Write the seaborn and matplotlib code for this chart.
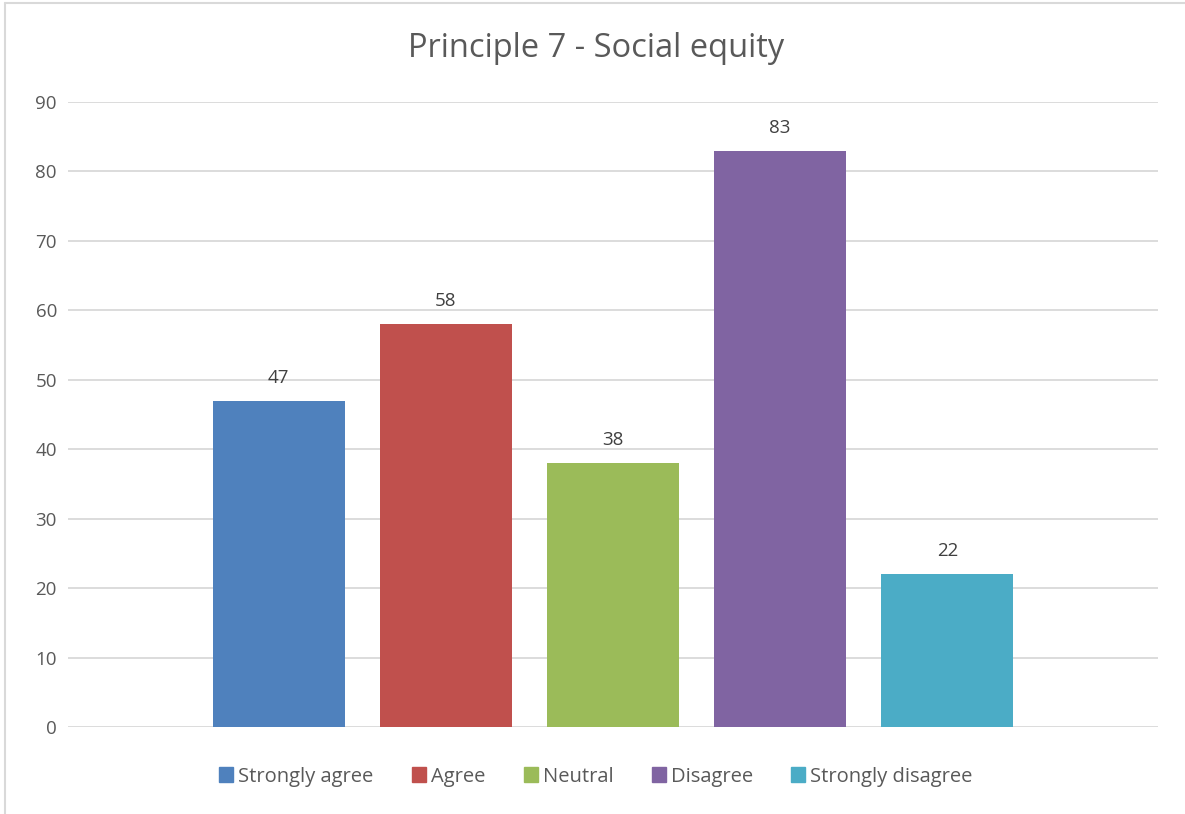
import matplotlib
matplotlib.use("Agg")
import matplotlib.pyplot as plt
from matplotlib.lines import Line2D
import seaborn as sns
import pandas as pd

# datos
categorias = ["Strongly agree", "Agree", "Neutral", "Disagree", "Strongly disagree"]
valores    = [47, 58, 38, 83, 22]
colores    = ["#4F81BD", "#C0504D", "#9BBB59", "#8064A2", "#4BACC6"]
titulo     = "Principle 7 - Social equity"
yticks     = [0, 10, 20, 30, 40, 50, 60, 70, 80, 90]

sns.set_theme(style="white")
plt.rcParams['font.family'] = ['Open Sans', 'DejaVu Sans']

df = pd.DataFrame({"cat": categorias, "val": valores})

fig = plt.figure(figsize=(11.85, 8.14), dpi=100)
ax = fig.add_axes([0.0574, 0.1069, 0.9198, 0.7678])

sns.barplot(data=df, x="cat", y="val", hue="cat", palette=colores,
            hue_order=categorias, order=categorias, dodge=False,
            width=0.79, saturation=1, legend=True, linewidth=0, ax=ax)

# etiquetas encima de cada barra
for cont in ax.containers:
    ax.bar_label(cont, padding=10, fontsize=13.5, color="#404040")

ax.set_ylim(0, 90)
ax.set_xlim(-1.26, 5.26)
ax.set_yticks(yticks)
ax.set_yticklabels([str(t) for t in yticks], fontsize=13.5, color="#595959")
ax.tick_params(axis='y', length=0, pad=8)
ax.set_xticks([])
ax.set_xlabel("")
ax.set_ylabel("")
ax.grid(True, axis='y', color="#D9D9D9", linewidth=1.3)
ax.set_axisbelow(True)
for s in ax.spines.values():
    s.set_visible(False)

fig.text(0.503, 0.94, titulo, ha='center', va='center', fontsize=23.5, color="#595959")

leg = ax.get_legend()
if leg is not None:
    leg.remove()
handles = [plt.Rectangle((0, 0), 1, 1, color=c) for c in colores]
fig.legend(handles, categorias, loc='center', bbox_to_anchor=(0.503, 0.046),
           ncol=5, frameon=False, fontsize=14.5, handlelength=0.7, handleheight=0.7,
           handletextpad=0.25, columnspacing=1.9, labelcolor="#595959")

# borde exterior del gráfico
fig.add_artist(Line2D([0.004, 0.004], [0.0, 0.996], color="#D9D9D9", linewidth=1.5))
fig.add_artist(Line2D([0.004, 1.0], [0.996, 0.996], color="#D9D9D9", linewidth=1.5))

fig.savefig("out.png", dpi=100)
